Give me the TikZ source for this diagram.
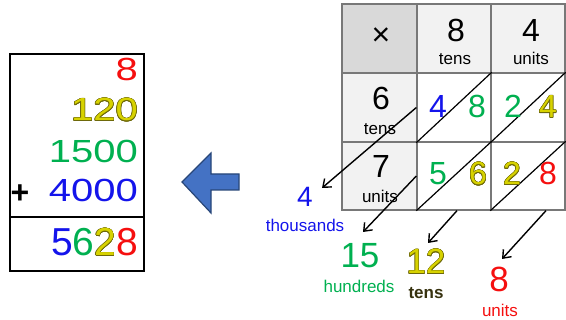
\documentclass[tikz,border=0pt]{standalone}
\usepackage{fontspec}
\setmainfont{Liberation Sans}
\usepackage{contour}
\usetikzlibrary{arrows.meta}

\definecolor{numblue}{RGB}{20,20,235}
\definecolor{numgreen}{RGB}{0,176,80}
\definecolor{numred}{RGB}{245,15,15}
\definecolor{numolive}{RGB}{215,210,0}
\definecolor{olivedark}{RGB}{110,105,10}
\definecolor{tensdark}{RGB}{55,50,15}
\definecolor{hdgray}{RGB}{217,217,217}
\definecolor{cellgray}{RGB}{242,242,242}
\definecolor{gridline}{RGB}{120,120,120}
\definecolor{arrowfill}{RGB}{68,114,196}
\definecolor{arrowedge}{RGB}{40,70,120}

\contourlength{0.45pt}
\contournumber{16}
\newcommand{\oliv}[1]{\textcolor{numolive}{\contour{olivedark}{#1}}}
\newcommand{\wide}[1]{\scalebox{1.25}[1]{#1}}

\begin{document}
\begin{tikzpicture}[
    x=1pt, y=-1pt,
    hdcell/.style={draw=gridline, line width=1.3pt, fill=cellgray, minimum width=74pt,
                   minimum height=69pt, inner sep=0pt},
    cornercell/.style={hdcell, fill=hdgray},
    prodcell/.style={hdcell, fill=white},
    lattdig/.style={anchor=base, inner sep=0pt, font=\fontsize{32}{36}\selectfont},
    placelbl/.style={anchor=base, inner sep=0pt, font=\fontsize{17}{20}\selectfont},
    sumdig/.style={anchor=base, inner sep=0pt, font=\fontsize{35}{40}\selectfont},
    colnum/.style={anchor=base east, inner sep=0pt, font=\fontsize{32}{36}\selectfont},
    diag/.style={line width=1.2pt},
    carry/.style={-{Straight Barb[length=7pt, width=11pt]}, line width=1.4pt},
    bigarrow/.style={fill=arrowfill, draw=arrowedge, line width=1.2pt, line join=miter}
]
\useasboundingbox (0,0) rectangle (566,320);

%--------
% LATTICE GRID (header row and column in gray)
%--------
\node[cornercell, minimum width=75pt] (c00) at (379.5,38.5) {};
\node[hdcell]                          (c01) at (454,38.5)   {};
\node[hdcell]                          (c02) at (528,38.5)   {};
\node[hdcell, minimum width=75pt]     (c10) at (379.5,107.5) {};
\node[prodcell]                        (c11) at (454,107.5)  {};
\node[prodcell]                        (c12) at (528,107.5)  {};
\node[hdcell, minimum width=75pt, minimum height=68pt] (c20) at (379.5,176) {};
\node[prodcell, minimum height=68pt]   (c21) at (454,176)    {};
\node[prodcell, minimum height=68pt]   (c22) at (528,176)    {};

% diagonals in the product cells
\foreach \c in {c11,c12,c21,c22}
    \draw[diag] (\c.south west) -- (\c.north east);

% headers
\node[lattdig] (times) at (381,46) {×};
\node[lattdig]  (h8)  at (456,42)  {8};
\node[placelbl] (h8l) at (455,65)  {tens};
\node[lattdig]  (h4)  at (531,42)  {4};
\node[placelbl] (h4l) at (531,65)  {units};
\node[lattdig]  (h6)  at (381,110) {6};
\node[placelbl] (h6l) at (380,135) {tens};
\node[lattdig]  (h7)  at (381,178) {7};
\node[placelbl] (h7l) at (380,203) {units};

% partial products
\node[lattdig, text=numblue]  (p48a) at (438,118) {4};
\node[lattdig, text=numgreen] (p48b) at (477,118) {8};
\node[lattdig, text=numgreen] (p24a) at (513,118) {2};
\node[lattdig]                (p24b) at (548,118) {\oliv{4}};
\node[lattdig, text=numgreen] (p56a) at (438,185) {5};
\node[lattdig]                (p56b) at (478,185) {\oliv{6}};
\node[lattdig]                (p28a) at (512,185) {\oliv{2}};
\node[lattdig, text=numred]   (p28b) at (548,185) {8};

%--------
% DIAGONAL SUMS
%--------
\node[sumdig, font=\fontsize{28}{32}\selectfont, text=numblue] (thou) at (305,207) {4};
\node[placelbl, text=numblue]  (thoul) at (305,232) {thousands};
\node[sumdig, text=numgreen]   (hund)  at (360,268) {15};
\node[placelbl, text=numgreen] (hundl) at (359,293) {hundreds};
\node[sumdig]                  (tens)  at (426,274) {\oliv{12}};
\node[placelbl, font=\fontsize{17}{20}\selectfont\bfseries, text=tensdark]
    (tensl) at (426,299) {tens};
\node[sumdig, text=numred]     (unit)  at (499,292) {8};
\node[placelbl, text=numred]   (unitl) at (500,317) {units};

\coordinate (e1) at (322,188);
\coordinate (e2) at (363,232);
\coordinate (e3) at (428,243);
\coordinate (e4) at (502,259);
\draw[carry] (c11.west) -- (e1);
\draw[carry] (c21.west) -- (e2);
\draw[carry] ([xshift=3pt]c21.south) -- (e3);
\draw[carry] ([xshift=18pt]c22.south) -- (e4);

%--------
% BLOCK ARROW
%--------
\draw[bigarrow] (182,182) -- (211,153) -- (211,174) -- (239,174)
    -- (239,190) -- (211,190) -- (211,213) -- cycle;

%--------
% COLUMN ADDITION (left box)
%--------
\node[draw, line width=1.3pt, minimum width=134pt, minimum height=217pt, inner sep=0pt]
    (addbox) at (77,162.5) {};
\draw[line width=1.3pt] (addbox.west |- 0,217) -- (addbox.east |- 0,217);

\node[colnum, text=numred]   (r1) at (138,81)  {\wide{8}};
\node[colnum]                (r2) at (138,121) {\wide{\oliv{120}}};
\node[colnum, text=numgreen] (r3) at (138,163) {\wide{1500}};
\node[colnum, text=numblue]  (r4) at (138,202) {\wide{4000}};
\node[lattdig, font=\fontsize{32}{36}\selectfont\bfseries] (plus) at (20,204) {+};
\node[colnum, font=\fontsize{39}{44}\selectfont] (total) at (138,256)
    {\textcolor{numblue}{5}\textcolor{numgreen}{6}\oliv{2}\textcolor{numred}{8}};

\end{tikzpicture}
\end{document}
